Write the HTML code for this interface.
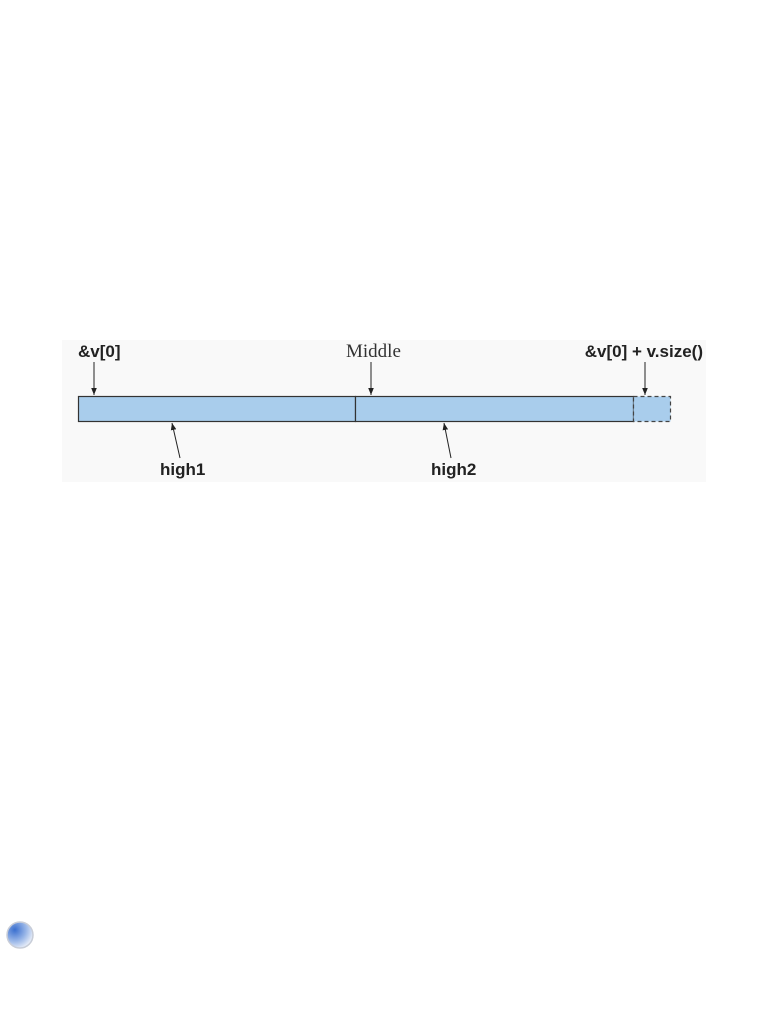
<!DOCTYPE html>
<html><head><meta charset="utf-8"><style>
html,body{margin:0;padding:0;background:#fff;width:782px;height:1012px;overflow:hidden}
svg{display:block}
.b{font-family:"Liberation Sans",sans-serif;font-weight:bold;font-size:17px;fill:#222}
.s{font-family:"Liberation Serif",serif;font-size:19px;fill:#333}
</style></head><body>
<svg width="782" height="1012" viewBox="0 0 782 1012">
<defs>
<marker id="ah" viewBox="0 0 10 10" refX="10" refY="5" markerWidth="7" markerHeight="7" orient="auto"><path d="M0,1 L10,5 L0,9 z" fill="#222"/></marker>
<radialGradient id="g" cx="0.3" cy="0.3" r="0.8"><stop offset="0" stop-color="#3a6fcf"/><stop offset="0.55" stop-color="#9ab7e8"/><stop offset="1" stop-color="#f4f6fb"/></radialGradient>
</defs>
<rect x="62" y="340" width="644" height="142" fill="#f9f9f9"/>
<rect x="78.5" y="396.5" width="277" height="25" fill="#a9cdec" stroke="#333" stroke-width="1.2"/>
<rect x="355.5" y="396.5" width="278" height="25" fill="#a9cdec" stroke="#333" stroke-width="1.2"/>
<rect x="633.5" y="396.5" width="37" height="25" fill="#a9cdec" stroke="#444" stroke-width="1.2" stroke-dasharray="4,3"/>
<line x1="94" y1="362" x2="94" y2="395" stroke="#222" stroke-width="1" marker-end="url(#ah)"/>
<line x1="371" y1="362" x2="371" y2="395" stroke="#222" stroke-width="1" marker-end="url(#ah)"/>
<line x1="645" y1="362" x2="645" y2="395" stroke="#222" stroke-width="1" marker-end="url(#ah)"/>
<line x1="180" y1="458" x2="172" y2="423" stroke="#222" stroke-width="1" marker-end="url(#ah)"/>
<line x1="451" y1="458" x2="444" y2="423" stroke="#222" stroke-width="1" marker-end="url(#ah)"/>
<text x="78" y="357" class="b">&amp;v[0]</text>
<text x="346" y="357" class="s">Middle</text>
<text x="703" y="357" class="b" text-anchor="end">&amp;v[0] + v.size()</text>
<text x="160" y="475" class="b">high1</text>
<text x="431" y="475" class="b">high2</text>
<circle cx="20" cy="935" r="13" fill="url(#g)" stroke="#c8cdd8" stroke-width="1.5"/>
</svg>
</body></html>
